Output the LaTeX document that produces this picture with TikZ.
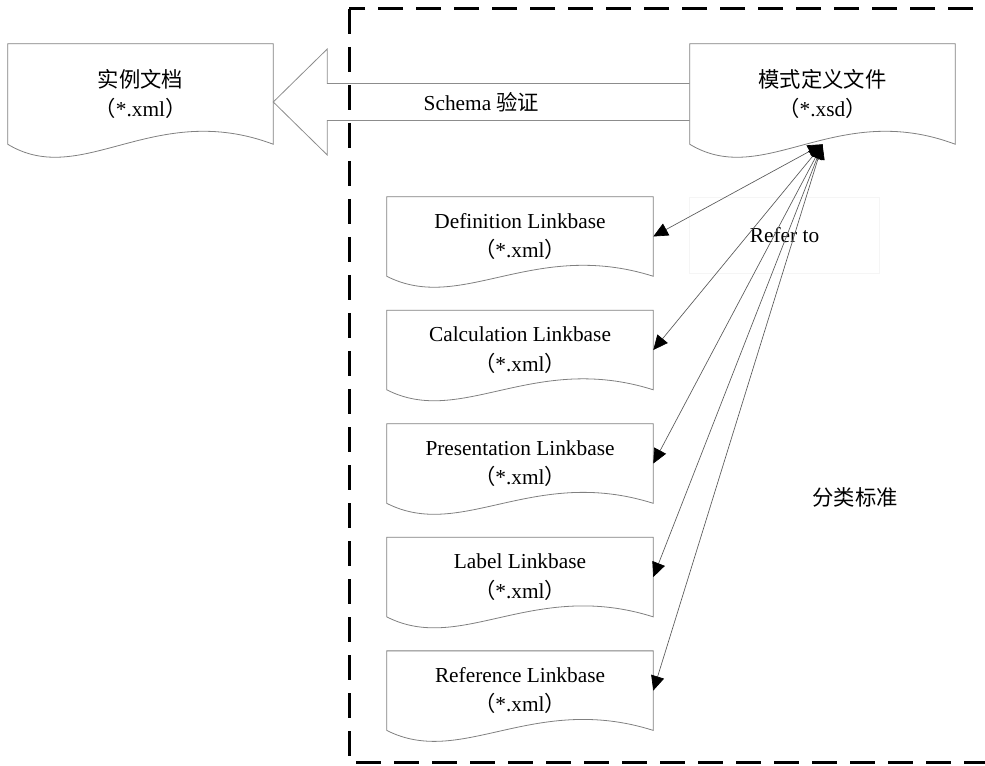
\documentclass[tikz,border=0pt]{standalone}
\usepackage{fontspec}
\setmainfont{Liberation Serif}
\newfontfamily\cjk{Noto Sans CJK SC}
\usetikzlibrary{calc,arrows.meta,positioning}
\newcommand\xmlext{{\cjk （}*.xml{\cjk ）}}

\begin{document}
\begin{tikzpicture}
[x=0.75pt,y=-0.75pt,%
  every node/.style={inner sep=0pt,align=center,font=\fontsize{16}{22}\selectfont},
  doc/.style={shape=rectangle,minimum width=198.75pt,minimum height=75pt},
  link/.style={shape=rectangle,minimum width=199.5pt,minimum height=59.25pt},
  docline/.style={draw=black!50,line width=0.6pt},
  hollow/.style={draw=black!45,line width=0.6pt,line join=miter},
  refer/.style={draw=black!65,line width=0.5pt,
    {Triangle[length=11pt,width=10pt,color=black]}-{Triangle[length=11pt,width=10pt,color=black]}},
  dashbox/.style={line width=2.25pt,dash pattern=on 18.75pt off 9.75pt}]
\useasboundingbox (0,0) rectangle (985,766);
\draw[dashbox] (349,9) rectangle (1010,762);

% documents
\node[doc] (inst) at (140.5,94) {{\cjk 实例文档}\\\xmlext};
\node[doc] (xsd) at (822.5,94) {{\cjk 模式定义文件}\\{\cjk （}*.xsd{\cjk ）}};
\node[link] (def) at (520,236.5) {Definition Linkbase\\\xmlext};
\node[link,below=25.5pt of def] (cal) {Calculation Linkbase\\\xmlext};
\node[link,below=25.5pt of cal] (pre) {Presentation Linkbase\\\xmlext};
\node[link,below=25.5pt of pre] (lab) {Label Linkbase\\\xmlext};
\node[link,below=25.5pt of lab] (ref) {Reference Linkbase\\\xmlext};

\foreach \n/\a in {inst/45,xsd/45,def/38,cal/38,pre/38,lab/38,ref/38}
  \draw[docline] (\n.north west) -- (\n.north east) -- (\n.south east)
    .. controls ($(\n.south east)!0.45!(\n.south west)+(0,-\a)$)
    and ($(\n.south east)!0.72!(\n.south west)+(0,\a)$) .. (\n.south west) -- cycle;

% schema check arrow
\coordinate (tip) at ($(inst.east)+(0,8)$);
\coordinate (st) at ($(tip)+(0,-18.5)$);
\coordinate (sb) at ($(tip)+(0,18.5)$);
\draw[hollow] (xsd.west |- st) -- ($(st)+(54,0)$) -- ($(tip)+(54,-53)$) -- (tip)
  -- ($(tip)+(54,53)$) -- ($(sb)+(54,0)$) -- (xsd.west |- sb);
\node (check) at ($(tip)!0.5!(xsd.west |- tip)$) {Schema {\cjk 验证}};

% references
\node[draw=black!4,minimum width=142.5pt,minimum height=57pt] (referto) at (784.5,235) {Refer to};
\foreach \n in {def,cal,pre,lab,ref}
  \draw[refer] (xsd.south) -- (\n.east);

\node (std) at (855,497) {\cjk 分类标准};
\end{tikzpicture}
\end{document}
